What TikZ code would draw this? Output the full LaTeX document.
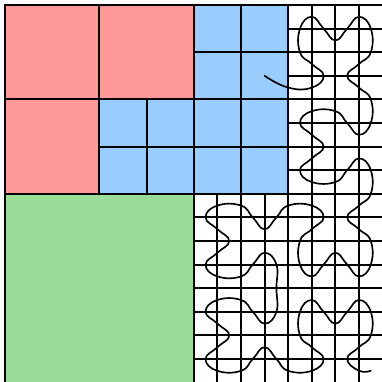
\documentclass[tikz,border=0pt]{standalone}
\definecolor{cellred}{RGB}{255,153,153}
\definecolor{cellblue}{RGB}{153,204,255}
\definecolor{cellgreen}{RGB}{153,221,153}
\begin{document}
\begin{tikzpicture}[x=0.5cm,y=-0.5cm,
  gridline/.style={line width=1.2pt,black},
  curveline/.style={line width=1pt,black,line cap=round,line join=round}]
\useasboundingbox (-0.212,-0.212) rectangle (15.975,15.975);
% fills
\fill[cellred] (0,0) rectangle (8,8);
\fill[cellblue] (4,4) rectangle (8,8);
\fill[cellblue] (8,0) rectangle (12,8);
\fill[cellgreen] (0,8) rectangle (8,16);
% grid lines
\draw[gridline] (8,0) -- (8,16);
\draw[gridline] (0,8) -- (16,8);
\draw[gridline] (4,0) -- (4,8) (0,4) -- (8,4) (6,4) -- (6,8) (4,6) -- (8,6);
\draw[gridline] (12,0) -- (12,8) (8,4) -- (16,4) (10,0) -- (10,8) (8,2) -- (16,2) (8,6) -- (16,6);
\foreach \k in {13,14,15} \draw[gridline] (\k,0) -- (\k,8);
\foreach \k in {1,3,5,7} \draw[gridline] (12,\k) -- (16,\k);
\foreach \k in {9,...,15} \draw[gridline] (\k,8) -- (\k,16) (8,\k) -- (16,\k);
\draw[gridline] (0,0) rectangle (16,16);
% space-filling curve (through the midpoints of the shared cell edges)
\draw[curveline] plot[smooth,tension=0.8] coordinates {
(11,3) (12,3.5) (13,3.5) (13.5,3) (13,2.5) (12.5,2) (12.5,1) (13,0.5) (13.5,1) (14,1.5) (14.5,1) (15,0.5) (15.5,1) (15.5,2) (15,2.5) (14.5,3) (15,3.5) (15.5,4)
(15.5,5) (15,5.5) (14.5,5) (14,4.5) (13,4.5) (12.5,5) (13,5.5) (13.5,6) (13,6.5) (12.5,7) (13,7.5) (14,7.5) (14.5,7) (15,6.5) (15.5,7) (15.5,8)
(15,8.5) (14.5,9) (15,9.5) (15.5,10) (15.5,11) (15,11.5) (14.5,11) (14,10.5) (13.5,11) (13,11.5) (12.5,11) (12.5,10) (13,9.5) (13.5,9) (13,8.5) (12,8.5) (11.5,9) (11,9.5) (10.5,9) (10,8.5) (9,8.5) (8.5,9) (9,9.5) (9.5,10) (9,10.5) (8.5,11) (9,11.5) (10,11.5) (10.5,11) (11,10.5) (11.5,11) (11.5,12) (11.5,13) (11,13.5) (10.5,13) (10,12.5) (9,12.5) (8.5,13) (9,13.5) (9.5,14) (9,14.5) (8.5,15) (9,15.5) (10,15.5) (10.5,15) (11,14.5) (11.5,15) (12,15.5) (13,15.5) (13.5,15) (13,14.5) (12.5,14) (12.5,13) (13,12.5) (13.5,13) (14,13.5) (14.5,13) (15,12.5) (15.5,13) (15.5,14) (15,14.5) (14.5,15) (15,15.5) (15.5,15.5)};
\end{tikzpicture}
\end{document}
